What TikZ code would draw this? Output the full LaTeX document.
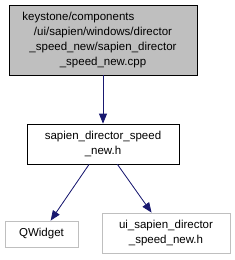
\documentclass[tikz,border=0pt]{standalone}
\usepackage{fontspec}
\setmainfont{Liberation Sans}
\usetikzlibrary{arrows.meta,positioning}
\definecolor{edgeblue}{HTML}{191970}
\definecolor{boxgray}{HTML}{BFBFBF}
\tikzset{
	filebox/.style={draw, align=center, inner sep=2pt, line width=0.8pt,
		font=\fontsize{11.5}{15}\selectfont},
	depedge/.style={-{Triangle[length=10pt,width=8pt]}, draw=edgeblue,
		fill=edgeblue, line width=0.8pt}
}
\begin{document}
\begin{tikzpicture}[x=1pt, y=-1pt]
	\useasboundingbox (0,0) rectangle (235,260);

	%% -- Source file (top)
	\node[filebox, fill=boxgray, minimum width=188pt, minimum height=70pt,
	text width=164pt]
	(cpp) at (103,40)
	{\makebox[\linewidth][l]{\hspace{1.5pt}keystone/components}\\/ui/sapien/windows/director\\\_speed\_new/sapien\_director\\\_speed\_new.cpp};

	%% -- Included header
	\node[filebox, minimum width=152pt, minimum height=40pt]
	(hdr) at (103,144)
	{sapien\_director\_speed\\\_new.h};

	%% -- Its dependencies
	\node[filebox, draw=boxgray, minimum width=73pt, minimum height=26pt]
	(qwidget) at (41.5,234) {QWidget};

	\node[filebox, draw=boxgray, minimum width=128pt, minimum height=40pt]
	(uihdr) at (166,233)
	{ui\_sapien\_director\\\_speed\_new.h};

	\draw[depedge] (cpp) -- (hdr);
	\draw[depedge] (hdr) -- (qwidget);
	\draw[depedge] (hdr) -- (uihdr);
\end{tikzpicture}
\end{document}
